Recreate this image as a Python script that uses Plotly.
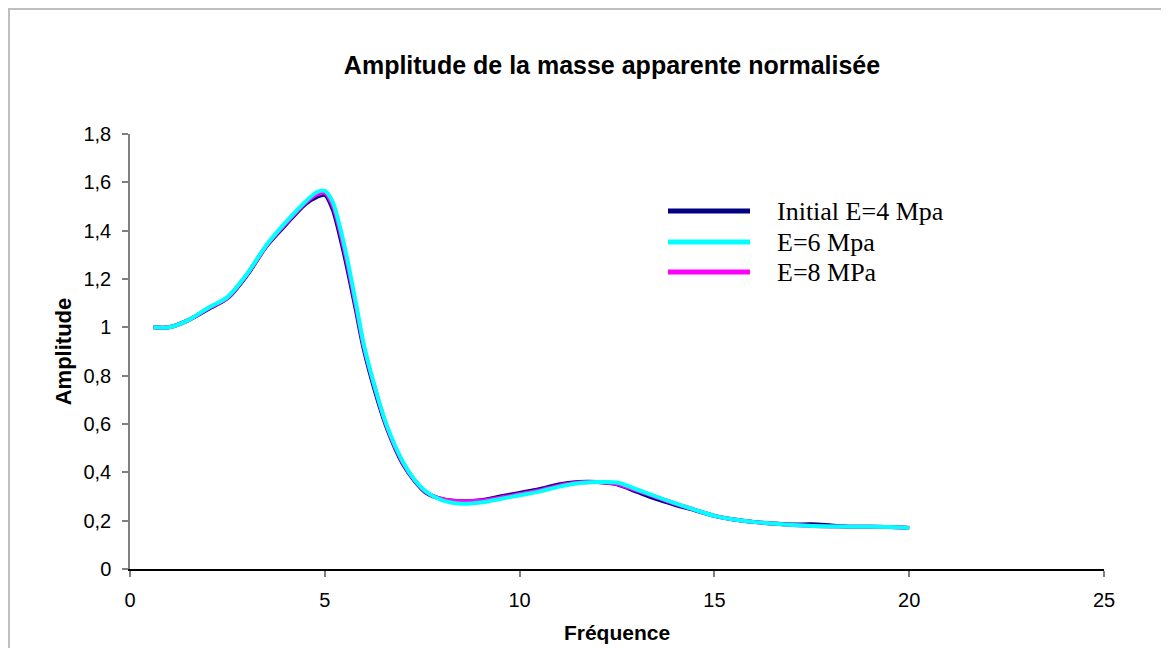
import plotly.graph_objects as go

# ---- data ----
freq = [0.6, 1.0, 1.5, 2.0, 2.5, 3.0, 3.5, 4.0, 4.5, 4.8, 5.0, 5.2, 5.5, 5.8, 6.0,
        6.3, 6.6, 7.0, 7.3, 7.6, 8.0, 8.5, 9.0, 9.5, 10.0, 10.5, 11.0, 11.5, 12.0,
        12.5, 13.0, 13.5, 14.0, 14.5, 15.0, 15.5, 16.0, 16.5, 17.0, 17.5, 18.0,
        18.5, 19.0, 19.5, 20.0]

amp_e4 = [1.00, 1.00, 1.03, 1.075, 1.12, 1.215, 1.335, 1.425, 1.51, 1.54, 1.548, 1.49,
          1.30, 1.07, 0.91, 0.73, 0.58, 0.435, 0.365, 0.315, 0.29, 0.28, 0.285, 0.30,
          0.315, 0.33, 0.35, 0.36, 0.36, 0.35, 0.32, 0.29, 0.265, 0.243, 0.22, 0.205,
          0.195, 0.188, 0.184, 0.185, 0.18, 0.175, 0.175, 0.174, 0.17]

amp_e6 = [1.00, 1.00, 1.03, 1.08, 1.125, 1.22, 1.34, 1.435, 1.52, 1.56, 1.565, 1.52,
          1.34, 1.10, 0.93, 0.745, 0.59, 0.445, 0.37, 0.32, 0.285, 0.27, 0.275, 0.29,
          0.305, 0.32, 0.34, 0.355, 0.36, 0.358, 0.33, 0.30, 0.272, 0.245, 0.22, 0.205,
          0.195, 0.188, 0.182, 0.178, 0.176, 0.175, 0.175, 0.174, 0.17]

amp_e8 = [1.00, 1.00, 1.03, 1.078, 1.122, 1.218, 1.337, 1.43, 1.515, 1.55, 1.556, 1.505,
          1.32, 1.085, 0.92, 0.74, 0.585, 0.44, 0.368, 0.318, 0.29, 0.28, 0.283, 0.295,
          0.31, 0.325, 0.345, 0.358, 0.36, 0.352, 0.325, 0.298, 0.27, 0.245, 0.22, 0.205,
          0.195, 0.188, 0.182, 0.178, 0.176, 0.175, 0.175, 0.174, 0.17]

series_names = ["Initial E=4 Mpa", "E=6 Mpa", "E=8 MPa"]
series_colors = ["#000080", "#00FFFF", "#FF00FF"]

title_text = "Amplitude de la masse apparente normalisée"
x_title = "Fréquence"
y_title = "Amplitude"

# ---- layout geometry (screen px; page body adds an 8px offset) ----
OFF = 8
W, H = 1169, 648
PX0, PX1 = 130 - OFF, 1104 - OFF
PY1, PY0 = 134 - OFF, 569 - OFF
PW, PH = PX1 - PX0, PY0 - PY1


def px2x(px):
    return (px - OFF - PX0) / PW


def py2y(py):
    return (PY0 - (py - OFF)) / PH


fig = go.Figure()
series = [amp_e4, amp_e8, amp_e6]
order = [0, 2, 1]  # draw cyan on top
for vals, idx in zip(series, order):
    fig.add_trace(go.Scatter(
        x=freq, y=vals, mode="lines", name=series_names[idx],
        line=dict(color=series_colors[idx], width=4, shape="spline", smoothing=0.8),
        showlegend=False,
    ))

# manual legend (Excel style long line samples)
legend_y = [211, 242, 272]
shapes = []
annotations = []
for i, name in enumerate(series_names):
    yy = py2y(legend_y[i])
    shapes.append(dict(type="line", xref="paper", yref="paper",
                       x0=px2x(668), x1=px2x(750), y0=yy, y1=yy,
                       line=dict(color=series_colors[i], width=5)))
    annotations.append(dict(xref="paper", yref="paper", x=px2x(775), y=yy,
                            text=name, showarrow=False, xanchor="left", yanchor="middle",
                            font=dict(family="Liberation Serif", size=26, color="black")))

# outer chart-area border
shapes.append(dict(type="rect", xref="paper", yref="paper",
                   x0=px2x(9), x1=px2x(1250), y0=py2y(720), y1=py2y(9),
                   line=dict(color="#BFBFBF", width=2), fillcolor="rgba(0,0,0,0)",
                   layer="below"))

fig.update_layout(
    width=W, height=H,
    margin=dict(l=PX0, r=W - PX1, t=PY1, b=H - PY0),
    paper_bgcolor="white", plot_bgcolor="white",
    separators=", ",
    title=dict(text="<b>" + title_text + "</b>", x=(612 - OFF) / W, xanchor="center",
               y=1 - (65 - OFF) / H, yanchor="middle",
               font=dict(family="Liberation Sans, Arial", size=25, color="black")),
    font=dict(family="Liberation Sans, Arial", size=20, color="black"),
    shapes=shapes,
    annotations=annotations,
    showlegend=False,
)

fig.update_xaxes(
    range=[0, 25], dtick=5, tick0=0,
    showgrid=False, zeroline=False,
    showline=True, linecolor="black", linewidth=1.5,
    ticks="outside", ticklen=6, tickcolor="#808080", tickwidth=1.5,
    tickfont=dict(size=20), ticklabelstandoff=6,
    title=dict(text="<b>" + x_title + "</b>", font=dict(size=21), standoff=16),
)
fig.update_yaxes(
    range=[0, 1.8], dtick=0.2, tick0=0,
    showgrid=False, zeroline=False,
    showline=True, linecolor="#808080", linewidth=1.5,
    ticks="outside", ticklen=6, tickcolor="#808080", tickwidth=1.5,
    tickfont=dict(size=20), ticklabelstandoff=7,
    title=dict(text="<b>" + y_title + "</b>", font=dict(size=22), standoff=6),
)

fig.write_html("out.html")
